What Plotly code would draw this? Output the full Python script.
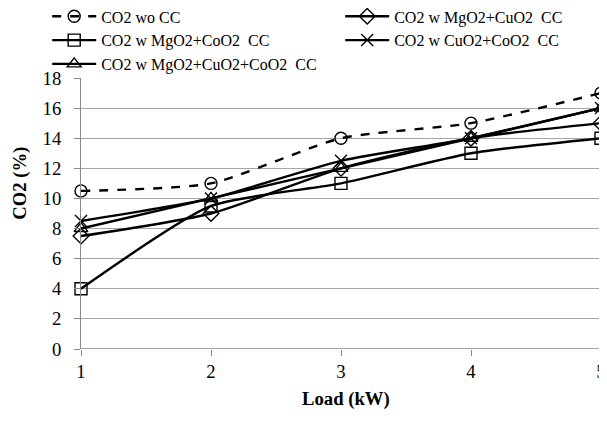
import plotly.graph_objects as go

loads = [1, 2, 3, 4, 5]
wo_cc = [10.5, 11, 14, 15, 17]
mg_cu = [7.5, 9, 12, 14, 15]
mg_co = [4, 9.5, 11, 13, 14]
cu_co = [8.5, 10, 12.5, 14, 16]
mg_cu_co = [8, 10, 12, 14, 16]

names = ["CO2 wo CC", "CO2 w MgO2+CuO2  CC", "CO2 w MgO2+CoO2  CC",
         "CO2 w CuO2+CoO2  CC", "CO2 w MgO2+CuO2+CoO2  CC"]
series = [wo_cc, mg_cu, mg_co, cu_co, mg_cu_co]
symbols = ["circle-open", "diamond-open", "square-open", "x-thin-open", "triangle-up-open"]
dashes = ["dash", "solid", "solid", "solid", "solid"]
x_title = "<b>Load (kW)</b>"
y_title = "<b>CO2 (%)</b>"

fig = go.Figure()
for n, s, sym, d in zip(names, series, symbols, dashes):
    fig.add_trace(go.Scatter(
        x=loads, y=s, name=n, mode="lines+markers",
        line=dict(color="black", width=2.4, dash=d, shape="spline", smoothing=0.6),
        marker=dict(symbol=sym, size=12, color="black", line=dict(color="black", width=1.4)),
        cliponaxis=False,
    ))

font = "Liberation Serif, Times New Roman, serif"
# page body has an 8px margin, so the figure is drawn 8px right/down
fig.update_layout(
    width=599, height=413,
    margin=dict(l=72.7, r=6, t=70, b=72, autoexpand=False),
    paper_bgcolor="white", plot_bgcolor="white",
    font=dict(family=font, size=16, color="black"),
    showlegend=True,
    legend=dict(orientation="h", x=-0.065, xanchor="left", y=1.29, yanchor="top",
                entrywidth=234, entrywidthmode="pixels", tracegroupgap=0,
                font=dict(family=font, size=16, color="black"),
                itemwidth=44, bgcolor="rgba(0,0,0,0)"),
    xaxis=dict(range=[1, 5], tickvals=loads, ticktext=[str(v) for v in loads],
               showgrid=False, zeroline=False, showline=False, automargin=False,
               ticks="outside", ticklen=6, tickcolor="#888",
               ticklabeloverflow="allow",
               tickfont=dict(family=font, size=18.7)),
    yaxis=dict(range=[0, 18], dtick=2, showgrid=True, gridcolor="#a6a6a6", gridwidth=1.3,
               zeroline=False, showline=True, linecolor="#888", linewidth=1, automargin=False,
               ticks="outside", ticklen=6, tickcolor="#888", ticklabelstandoff=9,
               tickfont=dict(family=font, size=18.7)),
)
fig.add_annotation(text=x_title, xref="paper", yref="paper", x=0.51, y=-0.183,
                   xanchor="center", yanchor="middle", showarrow=False,
                   font=dict(family=font, size=18.7, color="black"))
fig.add_annotation(text=y_title, xref="paper", yref="paper", x=-0.1176, y=0.6125,
                   xanchor="center", yanchor="middle", showarrow=False, textangle=-90,
                   font=dict(family=font, size=18.7, color="black"))
fig.add_shape(type="line", xref="paper", yref="y", x0=0, x1=1, y0=0, y1=0,
              line=dict(color="#888", width=1.3), layer="below")
fig.write_html("out.html")
